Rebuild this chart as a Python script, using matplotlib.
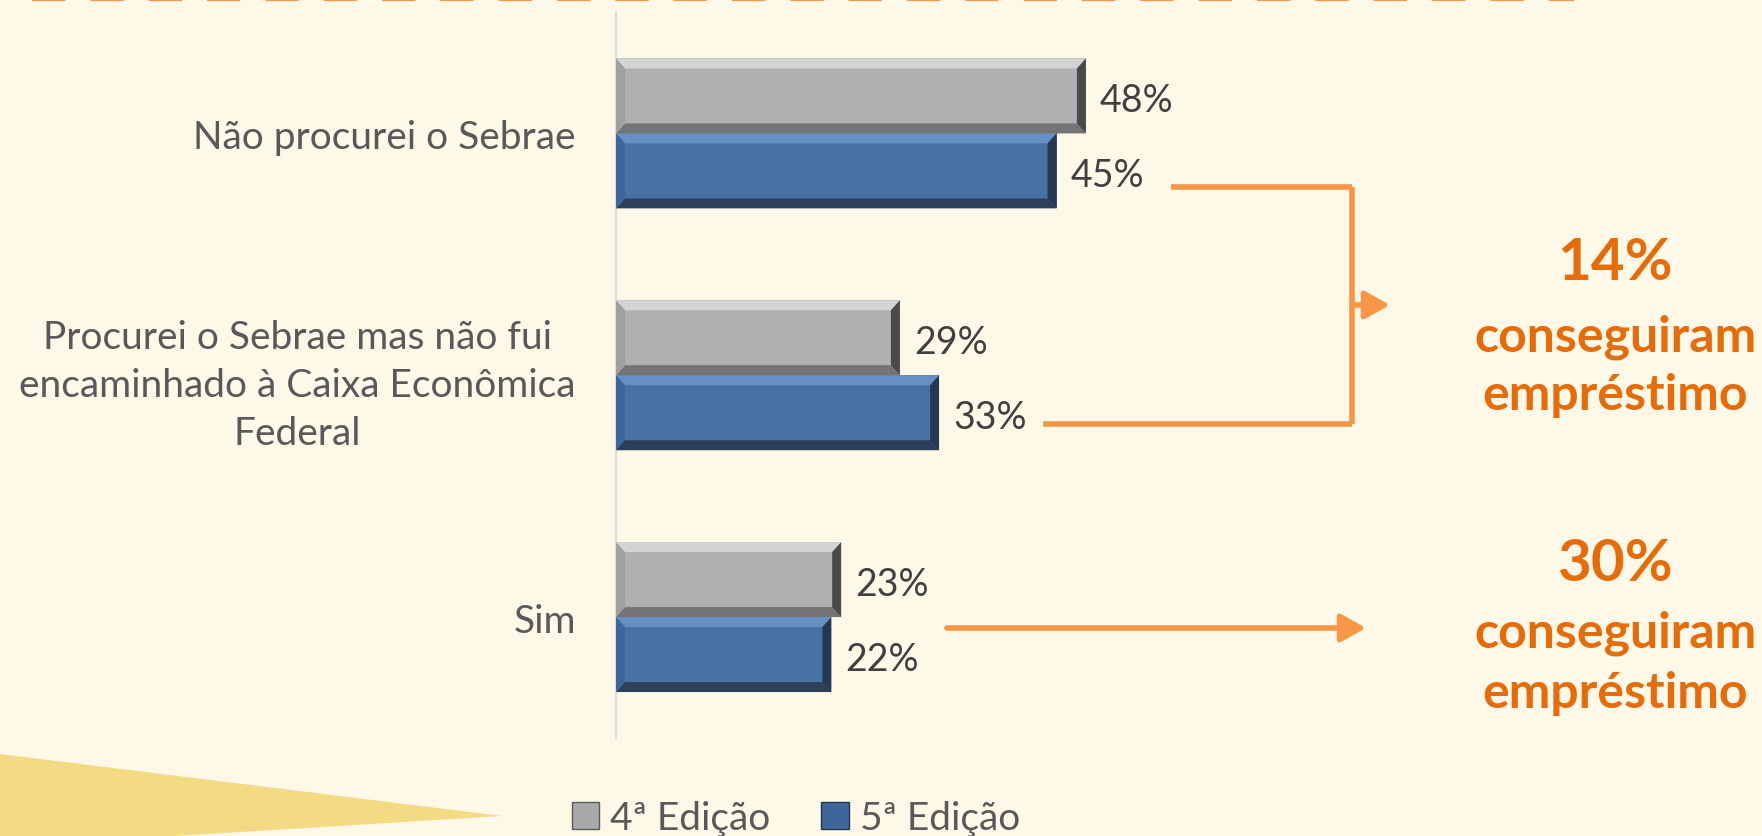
import matplotlib
matplotlib.use("Agg")
import matplotlib.pyplot as plt
from matplotlib.patches import Polygon, Patch, FancyArrowPatch
from matplotlib.lines import Line2D
import numpy as np

plt.rcParams['font.family'] = ['Lato', 'DejaVu Sans']

categories = ["Não procurei o Sebrae",
              "Procurei o Sebrae mas não fui\nencaminhado à Caixa Econômica\nFederal",
              "Sim"]
ed4 = [48, 29, 23]
ed5 = [45, 33, 22]
series_names = ["4ª Edição", "5ª Edição"]
callouts = [("14%", "conseguiram", "empréstimo"), ("30%", "conseguiram", "empréstimo")]

W, H = 1762, 837
bg = '#FEF8E8'
orange_line = '#F79646'
orange_text = '#E46C0A'

fig = plt.figure(figsize=(W / 100, H / 100), dpi=100, facecolor=bg)


def px(x, y):
    # full-size pixel position -> figure fraction
    return x / W, 1 - y / H


ax = fig.add_axes([616 / W, 1 - 739 / H, 979 / W, 725.5 / H])
ax.set_facecolor('none')
ax.set_xlim(0, 100)
ax.set_ylim(-0.5, 2.5)

ypos = np.arange(len(categories))[::-1]
bh = 0.31
b4 = ax.barh(ypos + bh / 2, ed4, height=bh, color='#B0B0B0', zorder=2)
b5 = ax.barh(ypos - bh / 2, ed5, height=bh, color='#4672A4', zorder=2)

# bevel effect, sizes in pixels turned into data units
dx = 9 / 9.79
dy = 10 / (725.5 / 3)
shades = {
    '#B0B0B0': ('#D4D4D4', '#747474', '#A0A0A0', '#4A4A4A'),
    '#4672A4': ('#6690C4', '#2C405C', '#3E6698', '#263852'),
}
for bars, base in ((b4, '#B0B0B0'), (b5, '#4672A4')):
    top_c, bot_c, left_c, right_c = shades[base]
    for r in bars:
        x0, y0 = r.get_x(), r.get_y()
        x1, y1 = x0 + r.get_width(), y0 + r.get_height()
        faces = [
            ([(x0, y1), (x1, y1), (x1 - dx, y1 - dy), (x0 + dx, y1 - dy)], top_c),
            ([(x0, y0), (x1, y0), (x1 - dx, y0 + dy), (x0 + dx, y0 + dy)], bot_c),
            ([(x0, y0), (x0 + dx, y0 + dy), (x0 + dx, y1 - dy), (x0, y1)], left_c),
            ([(x1, y0), (x1 - dx, y0 + dy), (x1 - dx, y1 - dy), (x1, y1)], right_c),
        ]
        for pts, c in faces:
            ax.add_patch(Polygon(pts, closed=True, facecolor=c, edgecolor='none', zorder=3))

for bars, vals in ((b4, ed4), (b5, ed5)):
    for r, v in zip(bars, vals):
        ax.annotate(f"{v}%", (r.get_width(), r.get_y() + r.get_height() / 2),
                    xytext=(10, -3), textcoords='offset points',
                    va='center', ha='left', fontsize=27, color='#404040')

ax.set_yticks(ypos)
ax.set_yticklabels(categories, fontsize=28, color='#595959', linespacing=1.42)
for lab in ax.get_yticklabels():
    lab.set_multialignment('center')
ax.tick_params(axis='y', length=0, pad=29)
ax.set_xticks([])
for s in ('top', 'right', 'bottom'):
    ax.spines[s].set_visible(False)
ax.spines['left'].set_color('#D4D4D4')
ax.spines['left'].set_linewidth(1.2)

# dashed line at the very top
fig.add_artist(Line2D([32 / W, 1574 / W], [1.0, 1.0], transform=fig.transFigure,
                      color=orange_line, lw=3, dashes=(8, 6)))

# yellow wedge bottom-left
fig.add_artist(Polygon([px(0, 755), px(502, 817), px(175, 837), px(0, 837)],
                       closed=True, transform=fig.transFigure,
                       facecolor='#F5DA84', edgecolor='none'))

# bracket connecting the first two groups
bx = 1352
for xs, ys in (([1171, bx], [188, 188]), ([bx, bx], [188, 425]), ([1043, bx], [425, 425])):
    p0, p1 = px(xs[0], ys[0]), px(xs[1], ys[1])
    fig.add_artist(Line2D([p0[0], p1[0]], [p0[1], p1[1]], transform=fig.transFigure,
                          color=orange_line, lw=4, solid_capstyle='butt'))

arrow_kw = dict(transform=fig.transFigure, arrowstyle='-|>,head_length=0.75,head_width=0.42',
                mutation_scale=20, color=orange_line, lw=4, shrinkA=0, shrinkB=0)
fig.add_artist(FancyArrowPatch(px(bx, 306), px(1390, 306), **arrow_kw))
fig.add_artist(FancyArrowPatch(px(947, 629), px(1366, 629), **arrow_kw))

# orange callouts
cx = 1615
for (big, l1, l2), ys in zip(callouts, ((263, 337, 396), (565, 633, 694))):
    fig.text(*px(cx, ys[0]), big, ha='center', va='center', fontsize=42,
             fontweight='bold', color=orange_text)
    fig.text(*px(cx, ys[1]), l1, ha='center', va='center', fontsize=36,
             fontweight='bold', color=orange_text)
    fig.text(*px(cx, ys[2]), l2, ha='center', va='center', fontsize=36,
             fontweight='bold', color=orange_text)

handles = [Patch(facecolor='#A8A8A8', edgecolor='#5A5A5A', label=series_names[0]),
           Patch(facecolor='#3F6699', edgecolor='#22344F', label=series_names[1])]
fig.legend(handles=handles, loc='center', bbox_to_anchor=px(796, 819), ncol=2,
           frameon=False, fontsize=28, labelcolor='#595959', handlelength=0.7,
           handleheight=0.7, handletextpad=0.3, columnspacing=1.3)

fig.savefig("out.png", dpi=100, facecolor=bg)
